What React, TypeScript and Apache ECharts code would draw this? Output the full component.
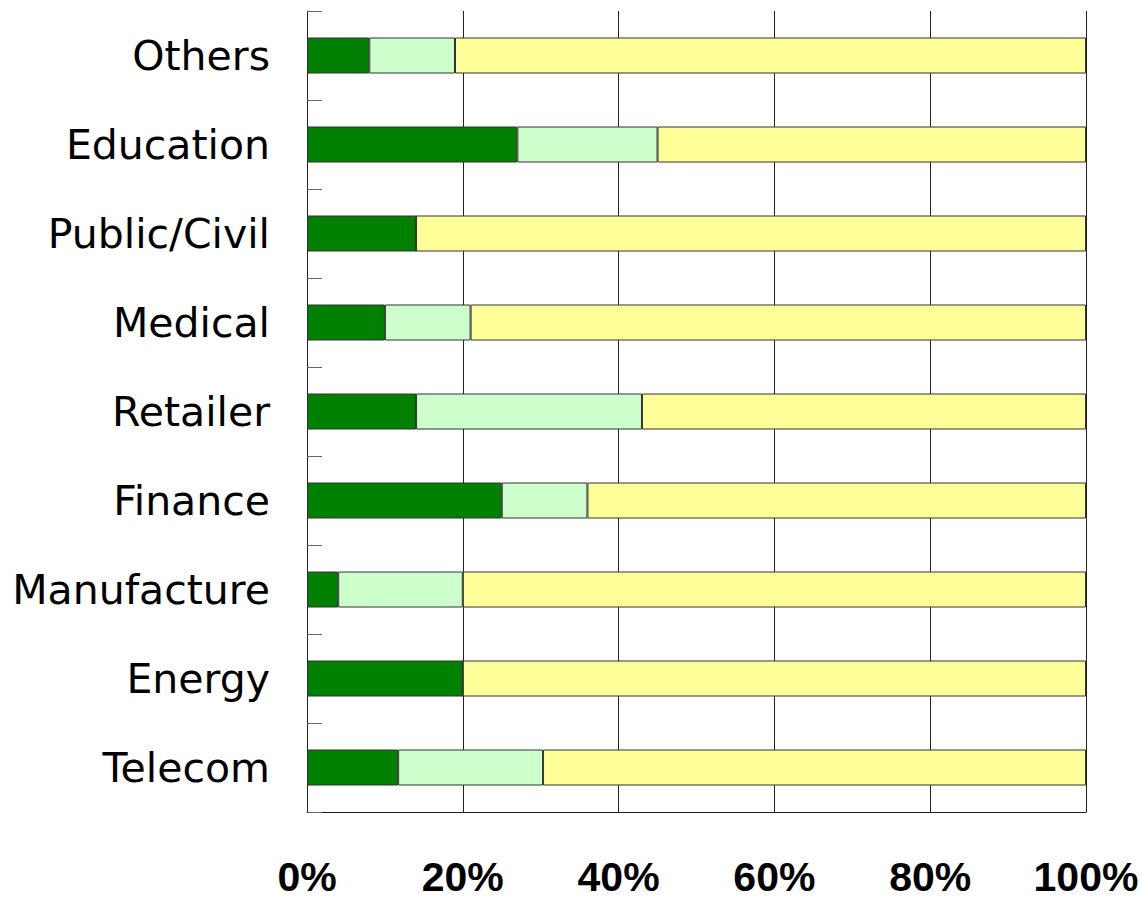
import React, { useEffect, useRef } from "react";
import * as echarts from "echarts";

const categories = [
  "Telecom",
  "Energy",
  "Manufacture",
  "Finance",
  "Retailer",
  "Medical",
  "Public/Civil",
  "Education",
  "Others",
];
const darkValues = [11.7, 20, 4, 25, 14, 10, 14, 27, 8];
const lightValues = [18.6, 0, 16, 11, 29, 11, 0, 18, 11];
const yellowValues = [69.7, 80, 80, 64, 57, 79, 86, 55, 81];
const xTicks = [0, 20, 40, 60, 80, 100];

export default function App() {
  const ref = useRef<HTMLDivElement>(null);
  useEffect(() => {
    document.body.style.margin = "0";
    if (!ref.current) return;
    const chart = echarts.init(ref.current, null, { renderer: "svg" });
    const barStyle = (color: string) => ({
      color,
      borderColor: "#333",
      borderWidth: 1,
    });
    chart.setOption({
      animation: false,
      backgroundColor: "#fff",
      grid: { left: 307, top: 11, right: 56, bottom: 91, containLabel: false },
      xAxis: {
        type: "value",
        min: xTicks[0],
        max: xTicks[xTicks.length - 1],
        interval: 20,
        axisLine: { show: true, lineStyle: { color: "#222", width: 1 } },
        axisTick: { show: false },
        splitLine: { show: true, lineStyle: { color: "#222", width: 1 } },
        axisLabel: {
          formatter: "{value}%",
          margin: 44,
          fontSize: 41,
          fontWeight: "bold",
          fontFamily: "Liberation Sans",
          color: "#000",
        },
      },
      yAxis: {
        type: "category",
        data: categories,
        axisLine: { show: true, lineStyle: { color: "#222", width: 1 } },
        axisTick: {
          show: true,
          inside: true,
          length: 15,
          lineStyle: { color: "#666", width: 1 },
        },
        axisLabel: {
          margin: 37,
          fontSize: 41,
          fontFamily: "DejaVu Sans",
          color: "#000",
        },
        splitLine: { show: false },
      },
      series: [
        {
          type: "bar",
          stack: "total",
          barWidth: 36,
          data: darkValues,
          itemStyle: barStyle("#008000"),
        },
        {
          type: "bar",
          stack: "total",
          barWidth: 36,
          data: lightValues,
          itemStyle: barStyle("#CCFFCC"),
        },
        {
          type: "bar",
          stack: "total",
          barWidth: 36,
          data: yellowValues,
          itemStyle: barStyle("#FFFF99"),
        },
      ],
    });
    return () => chart.dispose();
  }, []);
  return <div ref={ref} style={{ width: 1142, height: 903 }} />;
}
